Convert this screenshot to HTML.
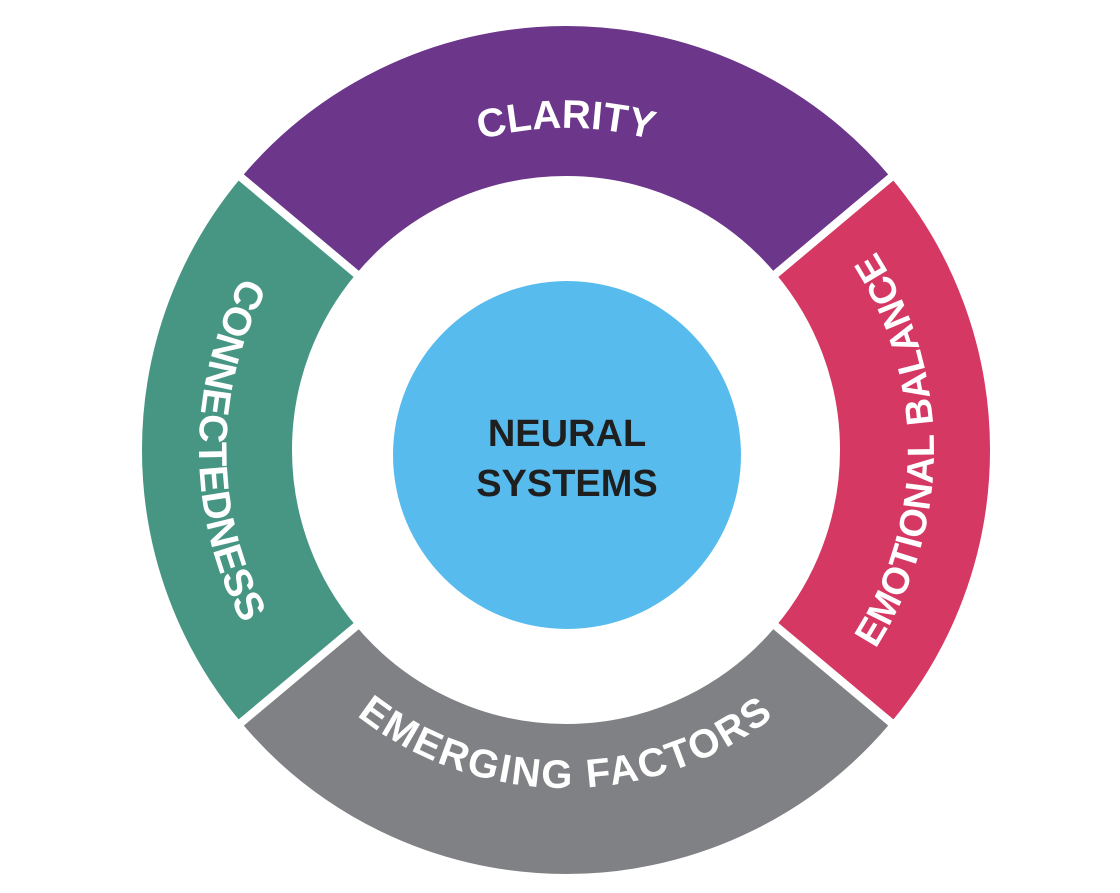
<!DOCTYPE html>
<html><head><meta charset="utf-8"><style>
html,body{margin:0;padding:0;background:#fff;}
svg{display:block;}
text{font-family:"Liberation Sans",sans-serif;font-weight:bold;}
</style></head><body>
<svg width="1120" height="893" viewBox="0 0 1120 893" xmlns="http://www.w3.org/2000/svg">
<defs>
<path id="pT" d="M287.1,289 A322,322 0 0 1 844.9,289"/>
<path id="pB" d="M273.3,619 A338,338 0 0 0 858.7,619"/>
<path id="pL" d="M355.5,149.4 A367,367 0 0 0 355.5,750.6"/>
<path id="pR" d="M777,751.4 A368,368 0 0 0 777,148.6"/>
</defs>
<g stroke="#fff" stroke-width="8">
<path fill="#6c368b" d="M238.1,174.9 A428,428 0 0 1 893.9,174.9 L772.8,276.4 A270,270 0 0 0 359.2,276.4 Z"/>
<path fill="#d63864" d="M893.9,174.9 A428,428 0 0 1 893.9,725.1 L772.8,623.6 A270,270 0 0 0 772.8,276.4 Z"/>
<path fill="#808184" d="M893.9,725.1 A428,428 0 0 1 238.1,725.1 L359.2,623.6 A270,270 0 0 0 772.8,623.6 Z"/>
<path fill="#479684" d="M238.1,725.1 A428,428 0 0 1 238.1,174.9 L359.2,276.4 A270,270 0 0 0 359.2,623.6 Z"/>
</g>
<circle cx="567" cy="455" r="174" fill="#58bbed"/>
<text font-size="38" fill="#1f1f1f" text-anchor="middle" x="567" y="446">NEURAL</text>
<text font-size="38" fill="#1f1f1f" text-anchor="middle" x="567" y="496">SYSTEMS</text>
<g font-size="40" fill="#fff">
<text letter-spacing="0"><textPath href="#pT" startOffset="50%" text-anchor="middle">CLARITY</textPath></text>
<text letter-spacing="2"><textPath href="#pB" startOffset="50%" text-anchor="middle">EMERGING FACTORS</textPath></text>
<text><textPath href="#pL" startOffset="50%" text-anchor="middle" textLength="362" lengthAdjust="spacingAndGlyphs">CONNECTEDNESS</textPath></text>
<text font-size="38"><textPath href="#pR" startOffset="50%" text-anchor="middle" textLength="420" lengthAdjust="spacingAndGlyphs">EMOTIONAL BALANCE</textPath></text>
</g>
</svg>
</body></html>
